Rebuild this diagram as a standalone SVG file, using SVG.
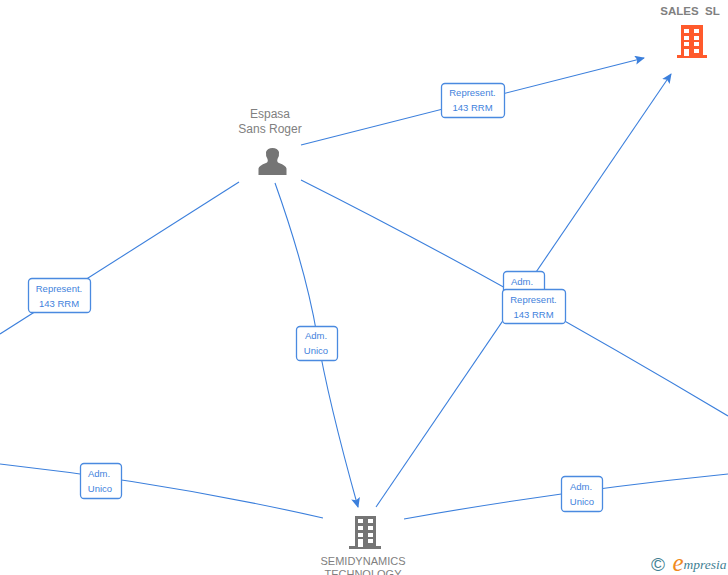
<svg xmlns="http://www.w3.org/2000/svg" width="728" height="575" viewBox="0 0 728 575">
<defs>
<marker id="ah" markerUnits="userSpaceOnUse" markerWidth="12" markerHeight="10" refX="9" refY="4.5" orient="auto"><path d="M0 0L10 4.5L0 9L2 4.5Z" fill="#3b7fdc"/></marker>
</defs>
<style>
.e{fill:none;stroke:#3b7fdc;stroke-width:1.1}
.b{fill:#fff;stroke:#4a8ae0;stroke-width:1.3}
.l{font:9.500px "Liberation Sans",Arial,sans-serif;fill:#3f82dc;text-anchor:middle}
.n{font:12px "Liberation Sans",Arial,sans-serif;fill:#808080;text-anchor:middle}
.w{fill:#fff}
</style>
<rect width="728" height="575" fill="#fff"/>
<g id="connectors">
<path class="e" d="M301 145L644 58" marker-end="url(#ah)"/>
<path class="e" d="M239 182L0 334"/>
<path class="e" d="M275 183Q306 270 317 335T358 507" marker-end="url(#ah)"/>
<path class="e" d="M301 180Q500 280 728 416"/>
<path class="e" d="M376 507L671 74" marker-end="url(#ah)"/>
<path class="e" d="M0 464Q170 483 323 518"/>
<path class="e" d="M404 519Q560 491 728 474"/>
</g>
<g id="edge-labels">
<g><rect class="b" x="441.500" y="83.500" width="63" height="34" rx="3.500"/><text class="l" x="472.500" y="96">Represent.</text><text class="l" x="472.500" y="111">143 RRM</text></g>
<g><rect class="b" x="28.500" y="278.500" width="62" height="34" rx="3.500"/><text class="l" x="59" y="292">Represent.</text><text class="l" x="59" y="307">143 RRM</text></g>
<g><rect class="b" x="296.500" y="326.500" width="41" height="34" rx="3.500"/><text class="l" x="316" y="339">Adm.</text><text class="l" x="316" y="354">Unico</text></g>
<g><rect class="b" x="503.500" y="271.500" width="41" height="34" rx="3.500"/><text class="l" x="522" y="285">Adm.</text></g>
<g><rect class="b" x="502.500" y="289.500" width="63" height="34" rx="3.500"/><text class="l" x="533.500" y="303">Represent.</text><text class="l" x="533.500" y="318">143 RRM</text></g>
<g><rect class="b" x="80.500" y="463.500" width="41" height="35" rx="3.500"/><text class="l" x="99" y="477">Adm.</text><text class="l" x="100" y="492">Unico</text></g>
<g><rect class="b" x="561.500" y="476.500" width="41" height="35" rx="3.500"/><text class="l" x="581" y="490">Adm.</text><text class="l" x="582" y="505">Unico</text></g>
</g>
<g id="node-sales">
<text x="690" y="15" style="font:bold 11.500px 'Liberation Sans',Arial,sans-serif;fill:#808080;text-anchor:middle" xml:space="preserve">SALES  SL</text>
<path d="M681 25H703V55H707V58H677V55H681Z" fill="#ff5a2c"/>
<g class="w"><rect x="684" y="29" width="5" height="4"/><rect x="694" y="29" width="5" height="4"/><rect x="684" y="36" width="5" height="4"/><rect x="694" y="36" width="5" height="4"/><rect x="684" y="42" width="5" height="4"/><rect x="694" y="42" width="5" height="4"/><rect x="684" y="49" width="5" height="7"/><rect x="694" y="49" width="5" height="4"/></g>
</g>
<g id="node-espasa">
<text class="n" x="270" y="118">Espasa</text><text class="n" x="270" y="133">Sans Roger</text>
<path d="M258.500 175V168.500Q259 165.500 266 163Q268.500 162 267.500 159Q265.500 156 266 152Q267.500 148 272.500 148Q277.500 148 279 152Q279.500 156 277.500 159Q276.500 162 279 163Q286 165.500 286.500 168.500V175Z" fill="#757575"/>
</g>
<g id="node-semi">
<path d="M355 516H376V546H381V549H349V546H355Z" fill="#757575"/>
<g class="w"><rect x="358" y="519" width="5" height="4"/><rect x="368" y="519" width="5" height="4"/><rect x="358" y="526" width="5" height="4"/><rect x="368" y="526" width="5" height="4"/><rect x="358" y="533" width="5" height="4"/><rect x="368" y="533" width="5" height="4"/><rect x="358" y="539" width="5" height="8"/><rect x="368" y="539" width="5" height="4"/></g>
<text x="363" y="565" style="font:11px 'Liberation Sans',Arial,sans-serif;fill:#808080;text-anchor:middle">SEMIDYNAMICS</text><text x="363" y="578" style="font:11px 'Liberation Sans',Arial,sans-serif;fill:#808080;text-anchor:middle">TECHNOLOGY</text>
</g>
<g id="logo">
<text x="658" y="571" style="font:19px 'Liberation Sans',sans-serif;fill:#3f7f93;text-anchor:middle">©</text>
<text x="678" y="571" style="font:italic 25px 'Liberation Serif',serif;fill:#f08a1d;text-anchor:middle">e</text>
<text x="705" y="569" style="font:italic 13.500px 'Liberation Serif',serif;fill:#3f7f93;text-anchor:middle">mpresia</text>
</g>
</svg>
